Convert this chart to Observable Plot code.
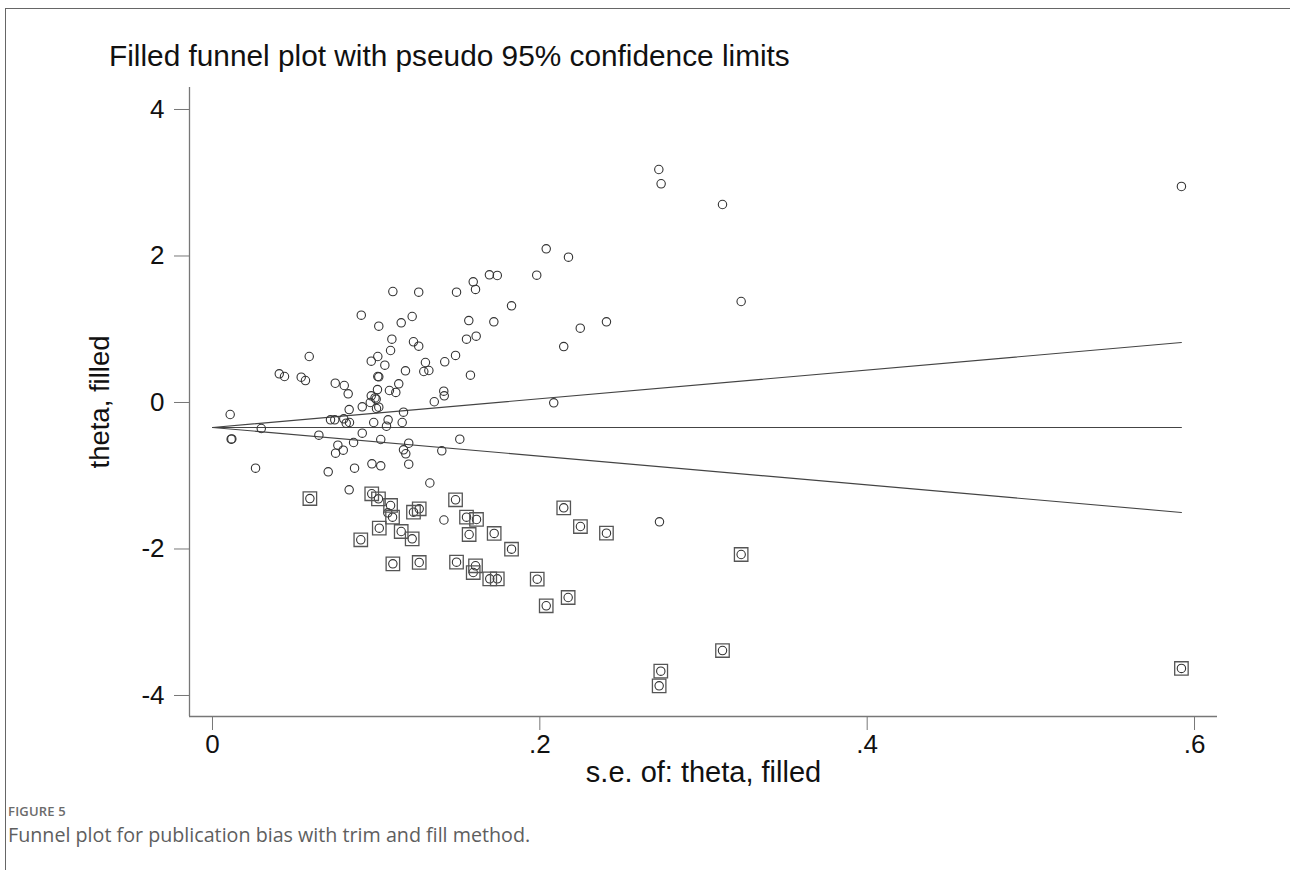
<!DOCTYPE html>
<html>
<head>
<meta charset="utf-8">
<script src="https://cdn.jsdelivr.net/npm/d3@7"></script>
<script src="https://cdn.jsdelivr.net/npm/@observablehq/plot@0.6"></script>
<style>
  html, body { margin: 0; padding: 0; background: #fff; }
  #page { position: relative; width: 1290px; height: 870px; overflow: hidden; }
  #frame { position: absolute; left: 5px; top: 8px; width: 1290px; height: 870px;
           border-top: 1.5px solid #666; border-left: 1.5px solid #666; }
  #title { position: absolute; left: 109px; top: 41px; font-family: "Liberation Sans", Arial, sans-serif;
           font-size: 29.8px; line-height: 29.8px; color: #111; white-space: nowrap; }
  #chart { position: absolute; left: 0; top: 0; }
  #figlabel { position: absolute; left: 8px; top: 805px; font-family: "Open Sans", "Noto Sans", sans-serif;
              font-size: 13px; line-height: 13px; font-weight: 600; color: #6b6b6b; letter-spacing: 0.2px; }
  #caption { position: absolute; left: 8px; top: 825px; font-family: "Open Sans", "Noto Sans", sans-serif;
             font-size: 19.7px; line-height: 19.7px; color: #5e5e5e; white-space: nowrap; }
</style>
</head>
<body>
<div id="page">
  <div id="frame"></div>
  <div id="chart"></div>
  <div id="title">Filled funnel plot with pseudo 95% confidence limits</div>
  <div id="figlabel">FIGURE 5</div>
  <div id="caption">Funnel plot for publication bias with trim and fill method.</div>
</div>
<script>
// ---- observed studies (s.e., theta) ----
const obsSe = [
  0.1102, 0.1260, 0.1491, 0.1593, 0.1607, 0.1692, 0.1740, 0.1827, 0.0909, 0.1220,
  0.1016, 0.1153, 0.1566, 0.1719, 0.1096, 0.1228, 0.1260, 0.1552, 0.1611, 0.1088,
  0.0591, 0.1010, 0.0970, 0.1053, 0.1301, 0.1291, 0.1322, 0.1419, 0.1485, 0.1576,
  0.0408, 0.0440, 0.0542, 0.0568, 0.1010, 0.1016, 0.1179, 0.0750, 0.0805, 0.0829,
  0.1008, 0.1081, 0.1120, 0.1138, 0.1413, 0.1416, 0.1355, 0.0970, 0.0993, 0.1000,
  0.0964, 0.0915, 0.0835, 0.1002, 0.1016, 0.1167, 0.0108, 0.0721, 0.0747, 0.0802,
  0.0817, 0.0837, 0.0985, 0.1073, 0.1063, 0.1159, 0.0298, 0.0114, 0.0118, 0.0650,
  0.0915, 0.1028, 0.1199, 0.1511, 0.0766, 0.0799, 0.0752, 0.0862, 0.1167, 0.1181,
  0.1401, 0.0263, 0.0707, 0.0868, 0.0974, 0.1028, 0.1199, 0.1328, 0.0835, 0.1414,
  0.1071, 0.2039, 0.2175, 0.1981, 0.2407, 0.2247, 0.2146, 0.2085, 0.2727, 0.2741,
  0.3116, 0.3230, 0.5920, 0.2731
];
const obsTheta = [
  1.515, 1.506, 1.506, 1.648, 1.543, 1.743, 1.734, 1.320, 1.192, 1.174,
  1.042, 1.088, 1.119, 1.102, 0.864, 0.829, 0.769, 0.864, 0.905, 0.710,
  0.628, 0.628, 0.564, 0.509, 0.546, 0.423, 0.437, 0.556, 0.642, 0.373,
  0.392, 0.355, 0.345, 0.300, 0.355, 0.351, 0.433, 0.263, 0.232, 0.119,
  0.177, 0.164, 0.137, 0.255, 0.154, 0.091, 0.010, 0.091, 0.062, 0.045,
  0.000, -0.059, -0.096, -0.082, -0.064, -0.132, -0.164, -0.236, -0.236, -0.223,
  -0.283, -0.273, -0.273, -0.236, -0.324, -0.273, -0.355, -0.501, -0.497, -0.446,
  -0.419, -0.505, -0.556, -0.501, -0.583, -0.651, -0.692, -0.546, -0.646, -0.700,
  -0.659, -0.897, -0.946, -0.897, -0.837, -0.864, -0.842, -1.099, -1.192, -1.604,
  -1.506, 2.098, 1.984, 1.738, 1.102, 1.014, 0.764, -0.004, 3.181, 2.986,
  2.703, 1.379, 2.949, -1.629
];

// ---- filled (imputed) studies (s.e., theta) ----
const fillSe = [
  0.0595, 0.0973, 0.1014, 0.1088, 0.1100, 0.1228, 0.1263, 0.1485, 0.1552, 0.1613,
  0.1019, 0.0906, 0.1153, 0.1220, 0.1568, 0.1721, 0.1827, 0.1102, 0.1263, 0.1491,
  0.1607, 0.1593, 0.1694, 0.1740, 0.2146, 0.2248, 0.2407, 0.1984, 0.2173, 0.2039,
  0.3230, 0.3116, 0.2739, 0.2729, 0.5920
];
const fillTheta = [
  -1.311, -1.246, -1.315, -1.406, -1.566, -1.498, -1.451, -1.328, -1.566, -1.597,
  -1.716, -1.874, -1.761, -1.861, -1.802, -1.788, -2.003, -2.202, -2.184, -2.180,
  -2.229, -2.321, -2.407, -2.407, -1.438, -1.693, -1.784, -2.412, -2.662, -2.775,
  -2.075, -3.386, -3.668, -3.868, -3.631
];

// ---- pooled estimate and pseudo 95% limits ----
const limitSe = [0, 0.592];
const pooledTheta = [-0.341, -0.341];
const upperLimit = [-0.341, 0.819];
const lowerLimit = [-0.341, -1.501];

// ---- axes ----
const xTicks = [0, 0.2, 0.4, 0.6];
const xTickLabels = ["0", ".2", ".4", ".6"];
const yTicks = [-4, -2, 0, 2, 4];
const yTickLabels = ["-4", "-2", "0", "2", "4"];
const xDomain = [-0.01405, 0.61404];
const yDomain = [-4.2867, 4.3003];

const observed = obsSe.map((s, i) => ({se: s, theta: obsTheta[i]}));
const filled = fillSe.map((s, i) => ({se: s, theta: fillTheta[i]}));
const allStudies = observed.concat(filled);
const limits = limitSe.map((s, i) => ({se: s, pooled: pooledTheta[i], upper: upperLimit[i], lower: lowerLimit[i]}));

const font = "'Liberation Sans', Arial, sans-serif";

const chart = Plot.plot({
  width: 1290,
  height: 790,
  marginLeft: 189,
  marginRight: 73,
  marginTop: 87,
  marginBottom: 74,
  style: {fontFamily: font, fontSize: "25px", color: "#111", background: "transparent", overflow: "visible"},
  x: {domain: xDomain, label: null},
  y: {domain: yDomain, label: null},
  marks: [
    Plot.ruleX([xDomain[0]], {stroke: "#777", strokeWidth: 1.3}),
    Plot.ruleY([yDomain[0]], {stroke: "#777", strokeWidth: 1.3}),
    Plot.axisX(xTicks, {tickSize: 14, tickPadding: 4, stroke: "#777", fontSize: 26,
      tickFormat: d => xTickLabels[xTicks.indexOf(d)], label: null}),
    Plot.axisY(yTicks, {tickSize: 15, tickPadding: 10, stroke: "#777", fontSize: 26,
      tickFormat: d => yTickLabels[yTicks.indexOf(d)], label: null}),
    Plot.text(["s.e. of: theta, filled"], {frameAnchor: "bottom", dy: 56, fontSize: 29, textAnchor: "middle", lineAnchor: "middle", fill: "#111"}),
    Plot.text(["theta, filled"], {frameAnchor: "left", dx: -89, rotate: -90, fontSize: 27.5, textAnchor: "middle", lineAnchor: "middle", fill: "#111"}),
    Plot.line(limits, {x: "se", y: "pooled", stroke: "#444", strokeWidth: 1.1}),
    Plot.line(limits, {x: "se", y: "upper", stroke: "#444", strokeWidth: 1.1}),
    Plot.line(limits, {x: "se", y: "lower", stroke: "#444", strokeWidth: 1.1}),
    Plot.dot(allStudies, {x: "se", y: "theta", r: 4.2, stroke: "#333", strokeWidth: 1.1, fill: "none"}),
    Plot.dot(filled, {x: "se", y: "theta", symbol: "square", r: 7.6, stroke: "#555", strokeWidth: 1.3, fill: "none"})
  ]
});
document.getElementById("chart").appendChild(chart);
</script>
</body>
</html>
